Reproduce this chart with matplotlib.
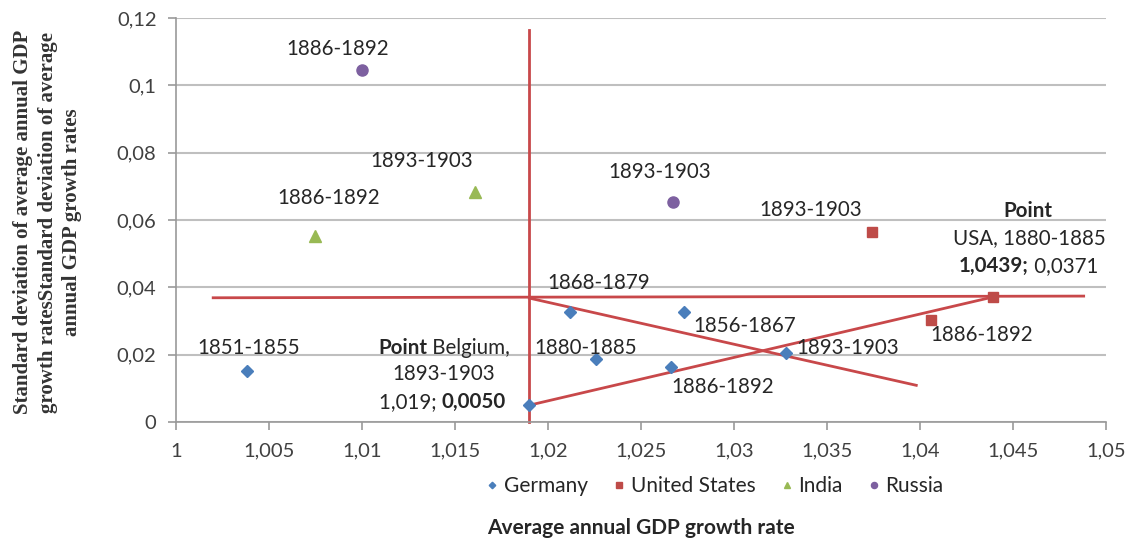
import matplotlib
matplotlib.use("Agg")
import matplotlib.pyplot as plt

plt.rcParams['font.family'] = ['Lato', 'DejaVu Sans']

# data
germany_x = [1.0038, 1.0190, 1.0212, 1.0273, 1.0226, 1.0266, 1.0328]
germany_y = [0.0152, 0.0050, 0.0328, 0.0328, 0.0186, 0.0163, 0.0204]
usa_x = [1.0374, 1.0406, 1.0439]
usa_y = [0.0563, 0.0303, 0.0371]
india_x = [1.0075, 1.0161]
india_y = [0.0551, 0.0683]
russia_x = [1.0100, 1.0267]
russia_y = [0.1046, 0.0652]

# red guide lines (start, end)
vline_x = [1.0190, 1.0190]
vline_y = [0.0, 0.1163]
hline_x = [1.0020, 1.0488]
hline_y = [0.0369, 0.0374]
diag1_x = [1.0190, 1.0398]
diag1_y = [0.0368, 0.0109]
diag2_x = [1.0190, 1.0439]
diag2_y = [0.0050, 0.0371]

x_ticks = [1.0, 1.005, 1.01, 1.015, 1.02, 1.025, 1.03, 1.035, 1.04, 1.045, 1.05]
x_ticklabels = ['1', '1,005', '1,01', '1,015', '1,02', '1,025', '1,03', '1,035',
                '1,04', '1,045', '1,05']
y_ticks = [0, 0.02, 0.04, 0.06, 0.08, 0.1, 0.12]
y_ticklabels = ['0', '0,02', '0,04', '0,06', '0,08', '0,1', '0,12']

red = '#C8484A'
grid_c = '#BFBFBF'
txt_c = '#262626'

fig = plt.figure(figsize=(11.31, 5.43), dpi=100)
ax = fig.add_axes([0.1556, 0.2228, 0.9779 - 0.1556, 0.9669 - 0.2228])

ax.set_xlim(1.0, 1.05)
ax.set_ylim(0, 0.12)
ax.set_xticks(x_ticks)
ax.set_xticklabels(x_ticklabels)
ax.set_yticks(y_ticks)
ax.set_yticklabels(y_ticklabels)
ax.tick_params(axis='both', labelsize=14.5, colors='#404040', length=6, width=1.2,
               color='#999999', pad=8)
ax.tick_params(axis='x', pad=9)
ax.yaxis.grid(True, color=grid_c, lw=1.5)
ax.set_axisbelow(True)
for s in ['top', 'right']:
    ax.spines[s].set_visible(False)
for s in ['left', 'bottom']:
    ax.spines[s].set_color('#999999')
    ax.spines[s].set_linewidth(1.2)

# guide lines
for lx, ly in [(vline_x, vline_y), (hline_x, hline_y), (diag1_x, diag1_y), (diag2_x, diag2_y)]:
    ax.plot(lx, ly, color=red, lw=2, zorder=2, clip_on=False)

ax.plot(germany_x, germany_y, 'D', color='#4A7EBB', ms=6, ls='none', label='Germany', zorder=3)
ax.plot(usa_x, usa_y, 's', color='#BE4B48', ms=7.5, ls='none', label='United States', zorder=3)
ax.plot(india_x, india_y, '^', color='#98B954', ms=8.5, ls='none', label='India', zorder=3)
ax.plot(russia_x, russia_y, 'o', color='#7D60A0', ms=8, ls='none', label='Russia', zorder=3)

fs = 14.8
def lab(x, y, s, **kw):
    ax.text(x, y, s, fontsize=fs, color=txt_c, ha=kw.pop('ha', 'center'),
            va='center', zorder=4, **kw)

# point labels
lab(1.0087, 0.1108, '1886-1892')
lab(1.0132, 0.0774, '1893-1903')
lab(1.0082, 0.0665, '1886-1892')
lab(1.0260, 0.0743, '1893-1903')
lab(1.0227, 0.0413, '1868-1879')
lab(1.0039, 0.0219, '1851-1855')
lab(1.0220, 0.0220, '1880-1885')
lab(1.0306, 0.0285, '1856-1867')
lab(1.0361, 0.0219, '1893-1903')
lab(1.0294, 0.0103, '1886-1892')
lab(1.0433, 0.0259, '1886-1892')
lab(1.0341, 0.0630, '1893-1903')

# Belgium callout
lab(1.01349, 0.0219, 'Point', ha='right', fontweight='bold')
lab(1.01349, 0.0219, ' Belgium,', ha='left')
lab(1.01441, 0.01426, '1893-1903')
lab(1.0143, 0.0060, '1,019; ', ha='right')
lab(1.0143, 0.0060, '0,0050', ha='left', fontweight='bold')

# USA callout
lab(1.0458, 0.0627, 'Point', fontweight='bold')
lab(1.0459, 0.0547, 'USA, 1880-1885')
lab(1.04584, 0.0464, '1,0439;', ha='right', fontweight='bold')
lab(1.04584, 0.0464, ' 0,0371', ha='left')

leg = fig.legend(loc='center', bbox_to_anchor=(0.631, 0.105), ncol=4, frameon=False,
                 fontsize=15, handletextpad=0.15, columnspacing=1.1, markerscale=0.55,
                 handlelength=0.8)
for t in leg.get_texts():
    t.set_color(txt_c)

fig.text(0.567, 0.028, 'Average annual GDP growth rate', ha='center', va='center',
         fontsize=15, fontweight='bold', color=txt_c)
fig.text(0.042, 0.591,
         'Standard deviation of average annual GDP\n'
         'growth ratesStandard deviation of average\n'
         'annual GDP growth rates',
         rotation=90, ha='center', va='center', multialignment='center',
         fontsize=15, fontweight='bold', family='Liberation Serif', color='#333333',
         linespacing=1.3)

fig.savefig('out.png', dpi=100)
